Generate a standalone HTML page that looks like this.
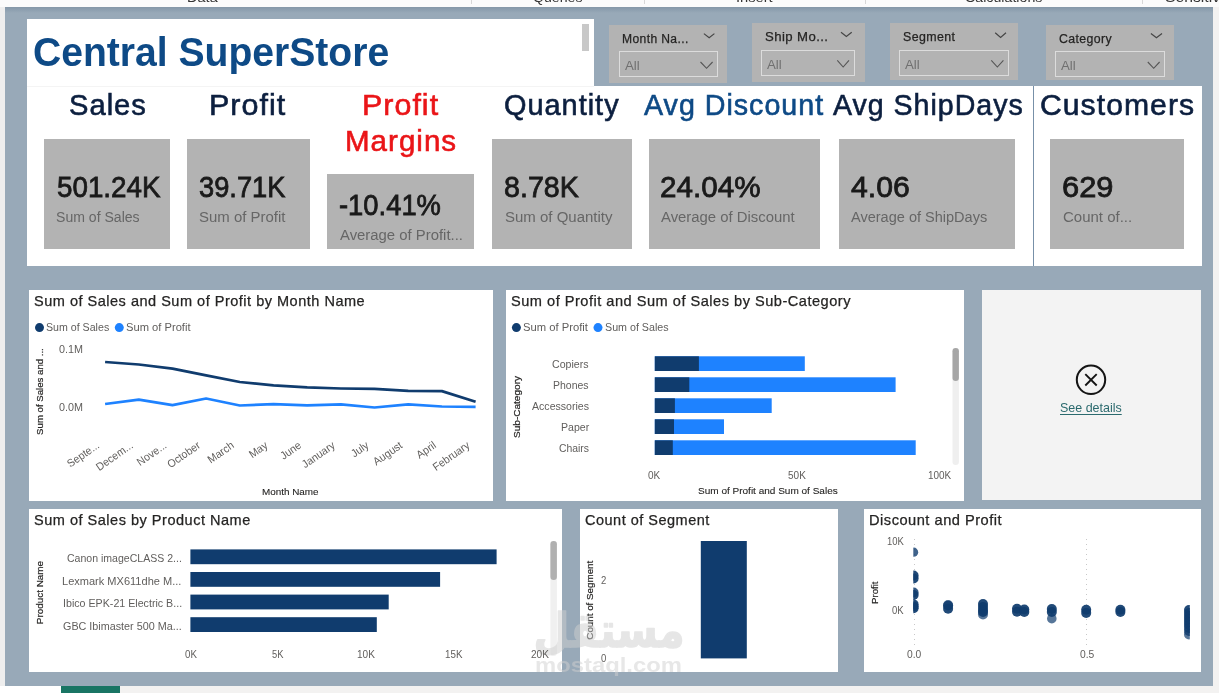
<!DOCTYPE html>
<html lang="en">
<head>
<meta charset="utf-8">
<title>Central SuperStore</title>
<style>
html,body{margin:0;padding:0;}
body{width:1219px;height:693px;overflow:hidden;position:relative;background:#f3f2f1;font-family:"Liberation Sans",sans-serif;}
.abs{position:absolute;}
#ribbon{left:0;top:0;width:1219px;height:7px;background:#fbfbfb;}
#leftedge{left:0;top:7px;width:5px;height:679px;background:#eeeeee;}
#canvas{left:5px;top:7px;width:1208px;height:679px;background:#98a9b8;}
#canvas:before{content:"";position:absolute;left:0;top:0;width:100%;height:6px;background:linear-gradient(#8497a8,#98a9b8);}
#tabwhite{left:0;top:686px;width:61px;height:7px;background:#ffffff;}
#tabteal{left:61px;top:686px;width:59px;height:7px;background:#197564;}
.w{background:#ffffff;}
.card{background:#b3b3b3;}
.sl{background:#b3b3b3;}
.dd{border:1px solid #dcdcdc;box-sizing:border-box;}
.t{position:absolute;white-space:nowrap;transform-origin:0 0;display:block;}
.ul{text-decoration:underline;text-underline-offset:2px;}
svg{position:absolute;left:0;top:0;}
</style>
</head>
<body>
<div id="ribbon" class="abs"></div>
<div id="leftedge" class="abs"></div>
<div id="canvas" class="abs"></div>
<div id="tabwhite" class="abs"></div>
<div id="tabteal" class="abs"></div>

<!-- title + KPI strip -->
<div class="abs w" style="left:27px;top:19px;width:567px;height:68px;"></div>
<div class="abs" style="left:582px;top:24px;width:7px;height:27px;background:#c8c8c8;"></div>
<div class="abs w" style="left:27px;top:86px;width:1006px;height:180px;"></div>
<div class="abs" style="left:27px;top:86px;width:567px;height:1px;background:#f4f4f4;"></div>
<div class="abs" style="left:1033px;top:86px;width:1px;height:180px;background:#7790a8;"></div>
<div class="abs w" style="left:1034px;top:86px;width:168px;height:180px;"></div>

<!-- cards -->
<div class="abs card" style="left:44px;top:139px;width:126px;height:110px;"></div>
<div class="abs card" style="left:186.5px;top:139px;width:123.7px;height:110px;"></div>
<div class="abs card" style="left:327.3px;top:174.4px;width:147.2px;height:74.6px;"></div>
<div class="abs card" style="left:492.4px;top:139px;width:139.4px;height:110px;"></div>
<div class="abs card" style="left:648.5px;top:139px;width:171.9px;height:110px;"></div>
<div class="abs card" style="left:838.9px;top:139px;width:176.6px;height:110px;"></div>
<div class="abs card" style="left:1050.3px;top:139px;width:134.2px;height:110px;"></div>

<!-- slicers -->
<div class="abs sl" style="left:609.4px;top:25.2px;width:117.3px;height:58.3px;"></div>
<div class="abs sl" style="left:751.9px;top:23.1px;width:112.7px;height:59.1px;"></div>
<div class="abs sl" style="left:890.2px;top:23.1px;width:127.6px;height:57.3px;"></div>
<div class="abs sl" style="left:1045.9px;top:25.2px;width:128.1px;height:54.9px;"></div>
<div class="abs dd" style="left:619px;top:51px;width:99px;height:26px;"></div>
<div class="abs dd" style="left:761px;top:50px;width:94px;height:26px;"></div>
<div class="abs dd" style="left:899px;top:50px;width:110px;height:26px;"></div>
<div class="abs dd" style="left:1055px;top:51px;width:110px;height:26px;"></div>

<!-- chart panels -->
<div class="abs w" style="left:29px;top:290px;width:464.4px;height:210.8px;"></div>
<div class="abs w" style="left:506.2px;top:290px;width:458.1px;height:210.8px;"></div>
<div class="abs" style="left:981.6px;top:290px;width:219.8px;height:210px;background:#f3f3f3;"></div>
<div class="abs w" style="left:29px;top:509px;width:533.2px;height:162.5px;"></div>
<div class="abs w" style="left:579.5px;top:509px;width:258.4px;height:162.5px;"></div>
<div class="abs w" style="left:864.4px;top:509px;width:337.1px;height:162.5px;"></div>

<svg width="1219" height="693" viewBox="0 0 1219 693" font-family="Liberation Sans, sans-serif">
  <!-- ribbon separators -->
  <g stroke="#d8d8d8" stroke-width="1">
    <line x1="471.5" y1="0" x2="471.5" y2="4"/><line x1="644.5" y1="0" x2="644.5" y2="4"/>
    <line x1="865.5" y1="0" x2="865.5" y2="4"/><line x1="1142.5" y1="0" x2="1142.5" y2="4"/>
  </g>
  <!-- slicer chevrons -->
  <g fill="none" stroke="#454545" stroke-width="1.2">
    <polyline points="703.9,33.6 709.15,37.8 714.4,33.6"/>
    <polyline points="841,32.3 846.35,36.5 851.7,32.3"/>
    <polyline points="995.2,32.8 1000.6,37.4 1006,32.8"/>
    <polyline points="1150.9,33.6 1156.45,37.8 1162,33.6"/>
  </g>
  <g fill="none" stroke="#555555" stroke-width="1.1">
    <polyline points="700.5,62 706.55,68.3 712.6,62"/>
    <polyline points="837.3,60.4 843.15,67 849,60.4"/>
    <polyline points="991.3,60.4 997.35,67 1003.4,60.4"/>
    <polyline points="1147.8,62 1153.7,68.3 1159.6,62"/>
  </g>

  <!-- line chart -->
  <circle cx="39.5" cy="327.6" r="4.5" fill="#103c6e"/>
  <circle cx="119.3" cy="327.6" r="4.5" fill="#1e82ff"/>
  <polyline fill="none" stroke="#103c6e" stroke-width="2.7" stroke-linejoin="round" stroke-linecap="butt"
    points="105.1,362 138.8,364.5 172.5,368.6 206.1,375.4 239.8,382 273.5,385.4 307.2,387.4 340.9,388.5 374.5,388.9 408.2,390.9 441.9,391.1 475.6,401.8"/>
  <polyline fill="none" stroke="#1e82ff" stroke-width="2.7" stroke-linejoin="round" stroke-linecap="butt"
    points="105.1,404 138.8,399.6 172.5,405.1 206.1,398.5 239.8,405.5 273.5,404.2 307.2,405.3 340.9,404.4 374.5,407.5 408.2,404.4 441.9,406.5 475.6,406.9"/>
<text transform="translate(100.10,447.00) rotate(-35) scale(0.96,1)" text-anchor="end" font-size="11" fill="#605e5c">Septe...</text>
<text transform="translate(133.78,447.00) rotate(-35) scale(0.96,1)" text-anchor="end" font-size="11" fill="#605e5c">Decem...</text>
<text transform="translate(167.46,447.00) rotate(-35) scale(0.96,1)" text-anchor="end" font-size="11" fill="#605e5c">Nove...</text>
<text transform="translate(201.14,447.00) rotate(-35) scale(0.96,1)" text-anchor="end" font-size="11" fill="#605e5c">October</text>
<text transform="translate(234.82,447.00) rotate(-35) scale(0.96,1)" text-anchor="end" font-size="11" fill="#605e5c">March</text>
<text transform="translate(268.50,447.00) rotate(-35) scale(0.96,1)" text-anchor="end" font-size="11" fill="#605e5c">May</text>
<text transform="translate(302.18,447.00) rotate(-35) scale(0.96,1)" text-anchor="end" font-size="11" fill="#605e5c">June</text>
<text transform="translate(335.86,447.00) rotate(-35) scale(0.96,1)" text-anchor="end" font-size="11" fill="#605e5c">January</text>
<text transform="translate(369.54,447.00) rotate(-35) scale(0.96,1)" text-anchor="end" font-size="11" fill="#605e5c">July</text>
<text transform="translate(403.22,447.00) rotate(-35) scale(0.96,1)" text-anchor="end" font-size="11" fill="#605e5c">August</text>
<text transform="translate(436.90,447.00) rotate(-35) scale(0.96,1)" text-anchor="end" font-size="11" fill="#605e5c">April</text>
<text transform="translate(470.58,447.00) rotate(-35) scale(0.96,1)" text-anchor="end" font-size="11" fill="#605e5c">February</text>

  <!-- stacked bar chart -->
  <circle cx="516.4" cy="327.6" r="4.5" fill="#103c6e"/>
  <circle cx="598" cy="327.6" r="4.5" fill="#1e82ff"/>
  <g fill="#1e82ff">
    <rect x="654.8" y="356.3" width="150" height="14.7"/>
    <rect x="654.8" y="377.3" width="240.8" height="14.7"/>
    <rect x="654.8" y="398.3" width="116.9" height="14.7"/>
    <rect x="654.8" y="419.3" width="69.2" height="14.7"/>
    <rect x="654.8" y="440.3" width="260.9" height="14.7"/>
  </g>
  <g fill="#103c6e">
    <rect x="654.8" y="356.3" width="44.1" height="14.7"/>
    <rect x="654.8" y="377.3" width="34.5" height="14.7"/>
    <rect x="654.8" y="398.3" width="20.1" height="14.7"/>
    <rect x="654.8" y="419.3" width="19.2" height="14.7"/>
    <rect x="654.8" y="440.3" width="18" height="14.7"/>
  </g>
  <rect x="952.5" y="348" width="6.4" height="117" rx="3.2" fill="#efefef"/>
  <rect x="952.5" y="348" width="6.4" height="33" rx="3.2" fill="#a6a6a6"/>

  <!-- see details -->
  <circle cx="1091" cy="379.8" r="14.2" fill="none" stroke="#141414" stroke-width="2"/>
  <path d="M1085.3 374.1 L1096.7 385.5 M1096.7 374.1 L1085.3 385.5" stroke="#141414" stroke-width="1.9" fill="none"/>

  <!-- product bar chart -->
  <g fill="#103c6e">
    <rect x="190.4" y="549.4" width="306.2" height="14.8"/>
    <rect x="190.4" y="572" width="249.7" height="14.8"/>
    <rect x="190.4" y="594.6" width="198.3" height="14.8"/>
    <rect x="190.4" y="617.2" width="186.4" height="14.8"/>
  </g>
  <rect x="550.4" y="541" width="6.5" height="115" rx="3.2" fill="#f0f0f0"/>
  <rect x="550.4" y="541" width="6.5" height="39" rx="3.2" fill="#b0b0b0"/>

  <!-- count of segment -->
  <rect x="700.8" y="541" width="46" height="117.4" fill="#103c6e"/>

  <!-- scatter -->
  <g stroke="#c8c8c8" stroke-width="1" stroke-dasharray="1 4">
    <line x1="914.5" y1="539" x2="914.5" y2="645.5"/>
    <line x1="1086.5" y1="539" x2="1086.5" y2="645.5"/>
  </g>
  <clipPath id="sc"><rect x="913.3" y="536" width="276.5" height="112"/></clipPath>
  <g clip-path="url(#sc)" fill="#103c6e" fill-opacity="0.93">
    <circle cx="913.6" cy="552.2" r="4.6" fill-opacity="0.8"/>
    <circle cx="913.6" cy="575.5" r="5"/>
    <circle cx="913.6" cy="578.5" r="5"/>
    <circle cx="913.6" cy="592.5" r="5" fill-opacity="0.85"/>
    <circle cx="913.6" cy="595" r="5"/>
    <circle cx="913.6" cy="604.4" r="5"/>
    <circle cx="913.6" cy="606.5" r="5"/>
    <circle cx="913.6" cy="608.3" r="5"/>
    <circle cx="948.1" cy="605.5" r="5"/>
    <circle cx="948.1" cy="608.8" r="5"/>
    <circle cx="948.1" cy="605" r="5" fill-opacity="0.6"/>
    <circle cx="983" cy="604" r="5"/>
    <circle cx="983" cy="607" r="5"/>
    <circle cx="983" cy="610" r="5"/>
    <circle cx="983" cy="612" r="5"/>
    <circle cx="983" cy="614.5" r="5" fill-opacity="0.7"/>
    <circle cx="1017" cy="608.8" r="5"/>
    <circle cx="1017" cy="611.8" r="5"/>
    <circle cx="1024.3" cy="609.5" r="5"/>
    <circle cx="1024.3" cy="612" r="5"/>
    <circle cx="1051.8" cy="609" r="5"/>
    <circle cx="1051.8" cy="612" r="5"/>
    <circle cx="1051.8" cy="618.7" r="4.8" fill-opacity="0.7"/>
    <circle cx="1086.2" cy="609.7" r="5"/>
    <circle cx="1086.2" cy="612.9" r="5"/>
    <circle cx="1120.4" cy="609.7" r="5"/>
    <circle cx="1120.4" cy="612" r="5"/>
    <circle cx="1189" cy="610" r="5"/>
    <circle cx="1189" cy="613" r="5"/>
    <circle cx="1189" cy="616" r="5"/>
    <circle cx="1189" cy="619" r="5"/>
    <circle cx="1189" cy="622" r="5"/>
    <circle cx="1189" cy="625" r="5"/>
    <circle cx="1189" cy="628" r="5" fill-opacity="0.85"/>
    <circle cx="1189" cy="631" r="5" fill-opacity="0.8"/>
    <circle cx="1189" cy="634.4" r="5" fill-opacity="0.7"/>
  </g>

  <!-- vertical axis titles -->
<text transform="translate(43.29,434.90) rotate(-90) scale(1.0489,1)" font-size="9.2" fill="#252423" stroke="#252423" stroke-width="0.2">Sum of Sales and ...</text>
<text transform="translate(519.69,438.00) rotate(-90) scale(1.0947,1)" font-size="9.2" fill="#252423" stroke="#252423" stroke-width="0.2">Sub-Category</text>
<text transform="translate(43.29,624.20) rotate(-90) scale(1.0783,1)" font-size="9.2" fill="#252423" stroke="#252423" stroke-width="0.2">Product Name</text>
<text transform="translate(593.29,639.70) rotate(-90) scale(1.0657,1)" font-size="9.2" fill="#252423" stroke="#252423" stroke-width="0.2">Count of Segment</text>
<text transform="translate(878.29,603.90) rotate(-90) scale(1.0461,1)" font-size="9.2" fill="#252423" stroke="#252423" stroke-width="0.2">Profit</text>

  <!-- watermark -->
  <g opacity="0.5"><text x="609" y="647" text-anchor="middle" font-family="DejaVu Sans, sans-serif" font-weight="700" font-size="48" fill="#cfcfcf" stroke="#cfcfcf" stroke-width="1.6" stroke-linejoin="round" textLength="151" lengthAdjust="spacingAndGlyphs">مستقل</text></g>
</svg>

<span class="t" style="left:187.38px;top:-10.01px;font-size:13px;line-height:16px;color:#333;transform:scaleX(1.1201);">Data</span>
<span class="t" style="left:533.00px;top:-10.01px;font-size:13px;line-height:16px;color:#333;transform:scaleX(1.0865);">Queries</span>
<span class="t" style="left:735.87px;top:-10.01px;font-size:13px;line-height:16px;color:#333;transform:scaleX(1.1285);">Insert</span>
<span class="t" style="left:965.00px;top:-10.01px;font-size:13px;line-height:16px;color:#333;transform:scaleX(1.0937);">Calculations</span>
<span class="t" style="left:1164.50px;top:-12.01px;font-size:14.5px;line-height:18px;color:#333;transform:scaleX(1.0830);">Sensitivity</span>
<span class="t" style="left:33.02px;top:28.01px;font-size:40px;line-height:48px;color:#0e4a86;transform:scaleX(0.9771);font-weight:700;">Central SuperStore</span>
<span class="t" style="left:68.90px;top:87.01px;font-size:29.2px;line-height:36px;color:#0c1f3f;transform:scaleX(0.9984);letter-spacing:1.0px;-webkit-text-stroke:0.6px #0c1f3f;">Sales</span>
<span class="t" style="left:209.21px;top:87.01px;font-size:29.2px;line-height:36px;color:#0c1f3f;transform:scaleX(1.0435);letter-spacing:1.0px;-webkit-text-stroke:0.6px #0c1f3f;">Profit</span>
<span class="t" style="left:362.02px;top:87.01px;font-size:29.2px;line-height:36px;color:#ea1518;transform:scaleX(1.0406);letter-spacing:1.0px;-webkit-text-stroke:0.6px #ea1518;">Profit</span>
<span class="t" style="left:345.08px;top:123.01px;font-size:29.2px;line-height:36px;color:#ea1518;transform:scaleX(1.0120);letter-spacing:1.0px;-webkit-text-stroke:0.6px #ea1518;">Margins</span>
<span class="t" style="left:504.41px;top:87.01px;font-size:29.2px;line-height:36px;color:#0c1f3f;transform:scaleX(0.9904);letter-spacing:1.0px;-webkit-text-stroke:0.6px #0c1f3f;">Quantity</span>
<span class="t" style="left:644.00px;top:87.01px;font-size:29.2px;line-height:36px;color:#0e4a86;transform:scaleX(0.9818);letter-spacing:1.0px;-webkit-text-stroke:0.6px #0e4a86;">Avg Discount</span>
<span class="t" style="left:832.80px;top:87.01px;font-size:29.2px;line-height:36px;color:#0c1f3f;transform:scaleX(0.9788);letter-spacing:1.0px;-webkit-text-stroke:0.6px #0c1f3f;">Avg ShipDays</span>
<span class="t" style="left:1040.47px;top:87.01px;font-size:29.2px;line-height:36px;color:#0c1f3f;transform:scaleX(1.0331);letter-spacing:1.0px;-webkit-text-stroke:0.6px #0c1f3f;">Customers</span>
<span class="t" style="left:56.75px;top:169.01px;font-size:29.2px;line-height:36px;color:#1a1a1a;transform:scaleX(0.9513);-webkit-text-stroke:0.8px #1a1a1a;">501.24K</span>
<span class="t" style="left:198.57px;top:169.01px;font-size:29.2px;line-height:36px;color:#1a1a1a;transform:scaleX(0.9344);-webkit-text-stroke:0.8px #1a1a1a;">39.71K</span>
<span class="t" style="left:339.36px;top:187.01px;font-size:29.2px;line-height:36px;color:#1a1a1a;transform:scaleX(0.9376);-webkit-text-stroke:0.8px #1a1a1a;">-10.41%</span>
<span class="t" style="left:504.42px;top:169.01px;font-size:29.2px;line-height:36px;color:#1a1a1a;transform:scaleX(0.9814);-webkit-text-stroke:0.8px #1a1a1a;">8.78K</span>
<span class="t" style="left:659.98px;top:169.01px;font-size:29.2px;line-height:36px;color:#1a1a1a;transform:scaleX(1.0150);-webkit-text-stroke:0.8px #1a1a1a;">24.04%</span>
<span class="t" style="left:851.00px;top:169.01px;font-size:29.2px;line-height:36px;color:#1a1a1a;transform:scaleX(1.0346);-webkit-text-stroke:0.8px #1a1a1a;">4.06</span>
<span class="t" style="left:1061.64px;top:169.01px;font-size:29.2px;line-height:36px;color:#1a1a1a;transform:scaleX(1.0567);-webkit-text-stroke:0.8px #1a1a1a;">629</span>
<span class="t" style="left:56.40px;top:209.00px;font-size:14px;line-height:17px;color:#666666;transform:scaleX(1.0041);">Sum of Sales</span>
<span class="t" style="left:198.50px;top:209.00px;font-size:14px;line-height:17px;color:#666666;transform:scaleX(1.0675);">Sum of Profit</span>
<span class="t" style="left:340.00px;top:227.01px;font-size:14px;line-height:17px;color:#666666;transform:scaleX(1.0627);">Average of Profit...</span>
<span class="t" style="left:505.00px;top:209.00px;font-size:14px;line-height:17px;color:#666666;transform:scaleX(1.0709);">Sum of Quantity</span>
<span class="t" style="left:661.00px;top:209.00px;font-size:14px;line-height:17px;color:#666666;transform:scaleX(1.0625);">Average of Discount</span>
<span class="t" style="left:851.00px;top:209.00px;font-size:14px;line-height:17px;color:#666666;transform:scaleX(1.0376);">Average of ShipDays</span>
<span class="t" style="left:1062.70px;top:209.00px;font-size:14px;line-height:17px;color:#666666;transform:scaleX(1.0706);">Count of...</span>
<span class="t" style="left:621.53px;top:32.00px;font-size:12.5px;line-height:15px;color:#252423;transform:scaleX(0.9667);letter-spacing:0.4px;-webkit-text-stroke:0.25px #252423;">Month Na...</span>
<span class="t" style="left:764.80px;top:30.01px;font-size:12.5px;line-height:15px;color:#252423;transform:scaleX(1.0522);letter-spacing:0.4px;-webkit-text-stroke:0.25px #252423;">Ship Mo...</span>
<span class="t" style="left:902.80px;top:30.01px;font-size:12.5px;line-height:15px;color:#252423;transform:scaleX(0.9914);letter-spacing:0.4px;-webkit-text-stroke:0.25px #252423;">Segment</span>
<span class="t" style="left:1058.50px;top:32.00px;font-size:12.5px;line-height:15px;color:#252423;transform:scaleX(0.9858);letter-spacing:0.4px;-webkit-text-stroke:0.25px #252423;">Category</span>
<span class="t" style="left:624.60px;top:59.01px;font-size:12.5px;line-height:15px;color:#707070;transform:scaleX(1.0599);">All</span>
<span class="t" style="left:766.50px;top:58.00px;font-size:12.5px;line-height:15px;color:#707070;transform:scaleX(1.0599);">All</span>
<span class="t" style="left:904.80px;top:58.00px;font-size:12.5px;line-height:15px;color:#707070;transform:scaleX(1.0599);">All</span>
<span class="t" style="left:1061.00px;top:59.01px;font-size:12.5px;line-height:15px;color:#707070;transform:scaleX(1.0599);">All</span>
<span class="t" style="left:34.40px;top:292.01px;font-size:14.5px;line-height:18px;color:#252423;transform:scaleX(1.0015);letter-spacing:0.5px;-webkit-text-stroke:0.25px #252423;">Sum of Sales and Sum of Profit by Month Name</span>
<span class="t" style="left:511.30px;top:292.01px;font-size:14.5px;line-height:18px;color:#252423;transform:scaleX(1.0054);letter-spacing:0.5px;-webkit-text-stroke:0.25px #252423;">Sum of Profit and Sum of Sales by Sub-Category</span>
<span class="t" style="left:34.30px;top:511.00px;font-size:14.5px;line-height:18px;color:#252423;transform:scaleX(1.0022);letter-spacing:0.5px;-webkit-text-stroke:0.25px #252423;">Sum of Sales by Product Name</span>
<span class="t" style="left:584.70px;top:511.00px;font-size:14.5px;line-height:18px;color:#252423;transform:scaleX(0.9996);letter-spacing:0.5px;-webkit-text-stroke:0.25px #252423;">Count of Segment</span>
<span class="t" style="left:869.39px;top:511.00px;font-size:14.5px;line-height:18px;color:#252423;transform:scaleX(1.0086);letter-spacing:0.5px;-webkit-text-stroke:0.25px #252423;">Discount and Profit</span>
<span class="t" style="left:45.60px;top:322.00px;font-size:10px;line-height:12px;color:#605e5c;transform:scaleX(1.0627);">Sum of Sales</span>
<span class="t" style="left:126.00px;top:322.00px;font-size:10px;line-height:12px;color:#605e5c;transform:scaleX(1.1169);">Sum of Profit</span>
<span class="t" style="left:522.60px;top:322.00px;font-size:10px;line-height:12px;color:#605e5c;transform:scaleX(1.1238);">Sum of Profit</span>
<span class="t" style="left:604.60px;top:322.00px;font-size:10px;line-height:12px;color:#605e5c;transform:scaleX(1.0694);">Sum of Sales</span>
<span class="t" style="left:59.00px;top:342.00px;font-size:11px;line-height:14px;color:#605e5c;transform:scaleX(0.9798);">0.1M</span>
<span class="t" style="left:59.00px;top:400.01px;font-size:11px;line-height:14px;color:#605e5c;transform:scaleX(0.9798);">0.0M</span>
<span class="t" style="left:262.00px;top:486.01px;font-size:9.5px;line-height:12px;color:#252423;transform:scaleX(1.0407);-webkit-text-stroke:0.1px #252423;">Month Name</span>
<span class="t" style="left:552.20px;top:357.00px;font-size:11px;line-height:14px;color:#605e5c;transform:scaleX(0.9634);">Copiers</span>
<span class="t" style="left:553.20px;top:378.00px;font-size:11px;line-height:14px;color:#605e5c;transform:scaleX(0.9522);">Phones</span>
<span class="t" style="left:531.70px;top:399.00px;font-size:11px;line-height:14px;color:#605e5c;transform:scaleX(0.9616);">Accessories</span>
<span class="t" style="left:560.70px;top:420.00px;font-size:11px;line-height:14px;color:#605e5c;transform:scaleX(0.9599);">Paper</span>
<span class="t" style="left:558.70px;top:441.00px;font-size:11px;line-height:14px;color:#605e5c;transform:scaleX(0.9447);">Chairs</span>
<span class="t" style="left:648.40px;top:468.01px;font-size:11px;line-height:14px;color:#605e5c;transform:scaleX(0.9067);">0K</span>
<span class="t" style="left:788.10px;top:468.01px;font-size:11px;line-height:14px;color:#605e5c;transform:scaleX(0.9093);">50K</span>
<span class="t" style="left:927.70px;top:468.01px;font-size:11px;line-height:14px;color:#605e5c;transform:scaleX(0.9031);">100K</span>
<span class="t" style="left:698.00px;top:485.01px;font-size:9.5px;line-height:12px;color:#252423;transform:scaleX(1.0543);-webkit-text-stroke:0.1px #252423;">Sum of Profit and Sum of Sales</span>
<span class="t ul" style="left:1060.20px;top:400.00px;font-size:13px;line-height:16px;color:#2b6a6e;transform:scaleX(0.9596);">See details</span>
<span class="t" style="left:66.80px;top:551.00px;font-size:11px;line-height:14px;color:#605e5c;transform:scaleX(0.9584);">Canon imageCLASS 2...</span>
<span class="t" style="left:62.30px;top:574.01px;font-size:11px;line-height:14px;color:#605e5c;transform:scaleX(1.0029);">Lexmark MX611dhe M...</span>
<span class="t" style="left:62.53px;top:596.01px;font-size:11px;line-height:14px;color:#605e5c;transform:scaleX(0.9694);">Ibico EPK-21 Electric B...</span>
<span class="t" style="left:63.00px;top:619.00px;font-size:11px;line-height:14px;color:#605e5c;transform:scaleX(0.9803);">GBC Ibimaster 500 Ma...</span>
<span class="t" style="left:184.65px;top:647.01px;font-size:11px;line-height:14px;color:#605e5c;transform:scaleX(0.8854);">0K</span>
<span class="t" style="left:272.40px;top:647.01px;font-size:11px;line-height:14px;color:#605e5c;transform:scaleX(0.8500);">5K</span>
<span class="t" style="left:356.65px;top:647.01px;font-size:11px;line-height:14px;color:#605e5c;transform:scaleX(0.9142);">10K</span>
<span class="t" style="left:444.60px;top:647.01px;font-size:11px;line-height:14px;color:#605e5c;transform:scaleX(0.8895);">15K</span>
<span class="t" style="left:531.35px;top:647.01px;font-size:11px;line-height:14px;color:#605e5c;transform:scaleX(0.9142);">20K</span>
<span class="t" style="left:601.00px;top:573.01px;font-size:11px;line-height:14px;color:#605e5c;transform:scaleX(0.8667);">2</span>
<span class="t" style="left:601.00px;top:651.00px;font-size:11px;line-height:14px;color:#605e5c;transform:scaleX(0.8667);">0</span>
<span class="t" style="left:886.50px;top:534.01px;font-size:11px;line-height:14px;color:#605e5c;transform:scaleX(0.8599);">10K</span>
<span class="t" style="left:891.70px;top:603.00px;font-size:11px;line-height:14px;color:#605e5c;transform:scaleX(0.8642);">0K</span>
<span class="t" style="left:906.80px;top:647.01px;font-size:11px;line-height:14px;color:#605e5c;transform:scaleX(0.9358);">0.0</span>
<span class="t" style="left:1079.50px;top:647.01px;font-size:11px;line-height:14px;color:#605e5c;transform:scaleX(0.9358);">0.5</span>
<span class="t" style="left:535.37px;top:652.00px;font-size:21px;line-height:26px;color:rgba(207,207,207,0.5);transform:scaleX(1.1341);font-weight:700;">mostaql.com</span>
</body>
</html>
